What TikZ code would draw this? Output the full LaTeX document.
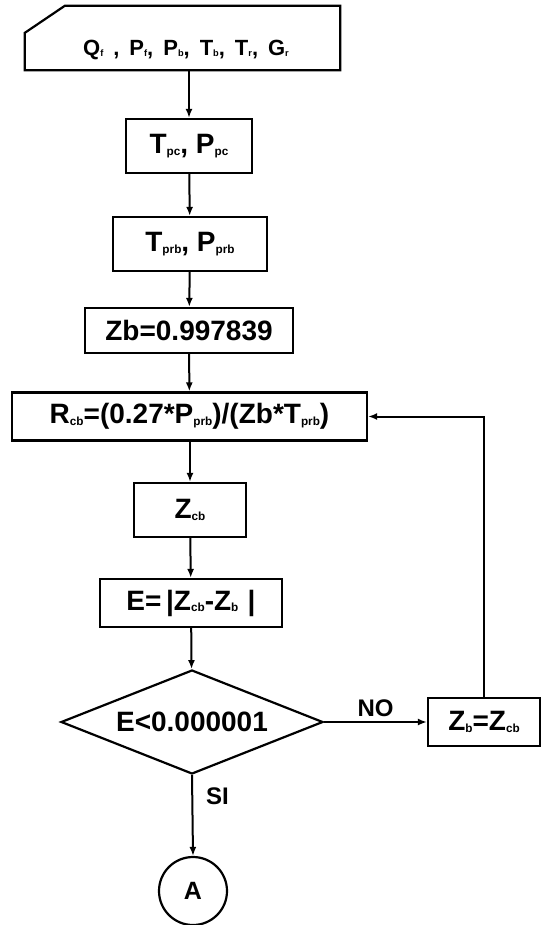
\documentclass[tikz,border=0pt]{standalone}
\usepackage{fontspec}
\setmainfont{Liberation Sans}
\usepackage{graphicx}
\usetikzlibrary{
    shapes.geometric,
    arrows.meta,
    positioning,
    calc,
}
\newcommand{\lo}[1]{\raisebox{-0.06em}{\scalebox{0.42}{#1}}}

\begin{document}
\begin{tikzpicture}[
    x=1pt, y=-1pt,
    box/.style={rectangle, draw, line width=2.2pt, inner sep=0pt, font=\fontsize{28}{32}\selectfont\bfseries},
    dec/.style={diamond, draw, line width=2.2pt, inner sep=0pt, minimum width=262pt, minimum height=104pt, font=\fontsize{28}{32}\selectfont\bfseries},
    con/.style={circle, draw, line width=2.2pt, inner sep=0pt, minimum size=68pt, font=\fontsize{25}{30}\selectfont\bfseries},
    arr/.style={-{Latex[length=9pt, width=7pt]}, line width=2pt},
    lbl/.style={font=\fontsize{24}{28}\selectfont\bfseries, inner sep=0pt}
]
    \useasboundingbox (0,0) rectangle (542,925);
    % manual input
    \node[inner sep=0pt, minimum width=315pt, minimum height=64pt] (inp) at (182.5, 38) {};
    \draw[line width=2.2pt] (inp.south west) -- ($(inp.south west)!0.58!(inp.north west)$)
        -- ($(inp.north west)+(40,0)$) -- (inp.north east) -- (inp.south east) -- cycle;
    \node[inner sep=0pt, font=\fontsize{22}{26}\selectfont\bfseries] (inptxt) at (186, 50)
        {\spaceskip=10pt Q\lo{f} , P\lo{f}, P\lo{b}, T\lo{b}, T\lo{r}, G\lo{r}};
    % process steps
    \node[box, minimum width=126pt, minimum height=54pt] (tpc)  at (189, 146)   {T\lo{pc}, P\lo{pc}};
    \node[box, minimum width=154pt, minimum height=54pt] (tprb) at (190, 244)   {T\lo{prb}, P\lo{prb}};
    \node[box, minimum width=208pt, minimum height=45pt] (zb)   at (189, 330.5) {Zb=0.997839};
    \node[box, minimum width=355pt, minimum height=48pt] (rcb)  at (189.5, 416.5) {R\lo{cb}=(0.27*P\lo{prb})/(Zb*T\lo{prb})};
    \node[box, minimum width=112pt, minimum height=54pt] (zcb)  at (190, 510)   {Z\lo{cb}};
    \node[box, minimum width=182pt, minimum height=48pt] (err)  at (191, 603)   {E=\,|Z\lo{cb}-Z\lo{b}\,\,|};
    \node[dec] (test) at (192, 722) {\smash{\makebox[0pt]{\raisebox{-0.35em}{E<0.000001}}}};
    \node[box, minimum width=112pt, minimum height=48pt] (upd)  at (484, 722)   {Z\lo{b}=Z\lo{cb}};
    \node[con] (outA) at (193, 891) {A};
    % connectors
    \draw[arr] (inp.south -| tpc.north) -- (tpc.north);
    \draw[arr] (tpc) -- (tprb);
    \draw[arr] (tprb) -- (zb);
    \draw[arr] (zb) -- (rcb);
    \draw[arr] (rcb.south -| zcb.north) -- (zcb.north);
    \draw[arr] (zcb) -- (err);
    \draw[arr] (err) -- (test);
    \draw[arr] (test.east) -- node[lbl, above=4pt] {NO} (upd.west);
    \draw[arr] (upd.north) |- (rcb.east);
    \draw[arr] (test.south) -- (outA.north);
    \node[lbl, below right=12pt and 14pt of test.south] (si) {SI};
\end{tikzpicture}
\end{document}
